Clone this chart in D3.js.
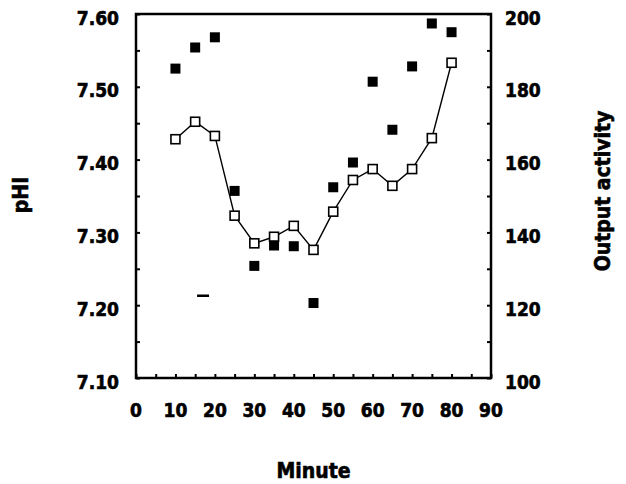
<!DOCTYPE html>
<html>
<head>
<meta charset="utf-8">
<script src="https://cdn.jsdelivr.net/npm/d3@7"></script>
<style>
  html, body { margin: 0; padding: 0; background: #fff; }
  svg { display: block; }
  text { font-family: "DejaVu Sans Condensed", "DejaVu Sans", sans-serif; font-stretch: condensed; font-weight: bold; fill: #000; stroke: #000; stroke-width: 0.6px; }
</style>
</head>
<body>
<svg id="chart" width="626" height="484"></svg>
<script>
// ---- data ----
const minutes = [10, 15, 20, 25, 30, 35, 40, 45, 50, 55, 60, 65, 70, 75, 80];
const phiValues = [7.525, 7.554, 7.568, 7.357, 7.254, 7.282, 7.281, 7.203, 7.362, 7.396, 7.507, 7.441, 7.528, 7.587, 7.575];
const activityValues = [165.6, 170.4, 166.5, 144.6, 137.0, 138.8, 141.8, 135.2, 145.7, 154.4, 157.4, 152.8, 157.4, 165.9, 186.6];
const dashMinutes = [17];
const dashPhi = [7.213];
const xTicks = [0, 10, 20, 30, 40, 50, 60, 70, 80, 90];
const xMinorTicks = [0, 5, 10, 15, 20, 25, 30, 35, 40, 45, 50, 55, 60, 65, 70, 75, 80, 85, 90];
const phiTicks = [7.10, 7.20, 7.30, 7.40, 7.50, 7.60];
const phiMinorTicks = [7.10, 7.15, 7.20, 7.25, 7.30, 7.35, 7.40, 7.45, 7.50, 7.55, 7.60];
const actTicks = [100, 120, 140, 160, 180, 200];
const actMinorTicks = [100, 110, 120, 130, 140, 150, 160, 170, 180, 190, 200];
const xTitle = "Minute";
const leftTitle = "pHI";
const rightTitle = "Output activity";

// ---- layout ----
const L = 136, R = 491, T = 14, B = 378;
const svg = d3.select("#chart");

const x = d3.scaleLinear().domain([0, 90]).range([L, R]);
const yL = d3.scaleLinear().domain([7.10, 7.60]).range([B, T]);
const yR = d3.scaleLinear().domain([100, 200]).range([B, T]);

// inward minor ticks via axes (no labels)
const tickLen = 4;
svg.append("g").attr("transform", `translate(0,${B})`)
  .call(d3.axisTop(x).tickValues(xMinorTicks).tickSize(tickLen).tickFormat(""))
  .call(g => g.select(".domain").remove())
  .call(g => g.selectAll("line").attr("stroke", "#000").attr("stroke-width", 2));
svg.append("g").attr("transform", `translate(${L},0)`)
  .call(d3.axisRight(yL).tickValues(phiMinorTicks).tickSize(tickLen).tickFormat(""))
  .call(g => g.select(".domain").remove())
  .call(g => g.selectAll("line").attr("stroke", "#000").attr("stroke-width", 2));
svg.append("g").attr("transform", `translate(${R},0)`)
  .call(d3.axisLeft(yR).tickValues(actMinorTicks).tickSize(tickLen).tickFormat(""))
  .call(g => g.select(".domain").remove())
  .call(g => g.selectAll("line").attr("stroke", "#000").attr("stroke-width", 2));

// frame
svg.append("rect")
  .attr("x", L).attr("y", T).attr("width", R - L).attr("height", B - T)
  .attr("fill", "none").attr("stroke", "#000").attr("stroke-width", 2.5);

// tick labels
svg.append("g").selectAll("text").data(phiTicks).join("text")
  .attr("x", 119).attr("y", d => yL(d) + 10.5)
  .attr("text-anchor", "end").attr("font-size", 19)
  .text(d => d.toFixed(2));
svg.append("g").selectAll("text").data(actTicks).join("text")
  .attr("x", 505).attr("y", d => yR(d) + 10.5)
  .attr("text-anchor", "start").attr("font-size", 19)
  .text(d => d);
svg.append("g").selectAll("text").data(xTicks).join("text")
  .attr("x", d => x(d)).attr("y", 417)
  .attr("text-anchor", "middle").attr("font-size", 19)
  .text(d => d);

// titles
svg.append("text").attr("x", (L + R) / 2).attr("y", 478)
  .attr("text-anchor", "middle").attr("font-size", 21).text(xTitle);
svg.append("text").attr("transform", "translate(28,195) rotate(-90)")
  .attr("text-anchor", "middle").attr("font-size", 21).text(leftTitle);
svg.append("text").attr("transform", "translate(610,191) rotate(-90)")
  .attr("text-anchor", "middle").attr("font-size", 21).text(rightTitle);

// activity line + open squares
const actData = minutes.map((m, i) => ({ m, v: activityValues[i] }));
svg.append("path").datum(actData)
  .attr("fill", "none").attr("stroke", "#000").attr("stroke-width", 1.4)
  .attr("d", d3.line().x(d => x(d.m)).y(d => yR(d.v)));
const sq = 9;
svg.append("g").selectAll("rect").data(actData).join("rect")
  .attr("x", d => x(d.m) - sq / 2).attr("y", d => yR(d.v) - sq / 2)
  .attr("width", sq).attr("height", sq)
  .attr("fill", "#fff").attr("stroke", "#000").attr("stroke-width", 1.6);

// pHi filled squares
const phiData = minutes.map((m, i) => ({ m, v: phiValues[i] }));
const fs = 10;
svg.append("g").selectAll("rect").data(phiData).join("rect")
  .attr("x", d => x(d.m) - fs / 2).attr("y", d => yL(d.v) - fs / 2)
  .attr("width", fs).attr("height", fs)
  .attr("fill", "#000");

// stray dash mark
const dashData = dashMinutes.map((m, i) => ({ m, v: dashPhi[i] }));
svg.append("g").selectAll("line").data(dashData).join("line")
  .attr("x1", d => x(d.m) - 6).attr("x2", d => x(d.m) + 6)
  .attr("y1", d => yL(d.v)).attr("y2", d => yL(d.v))
  .attr("stroke", "#000").attr("stroke-width", 2.5);
</script>
</body>
</html>
